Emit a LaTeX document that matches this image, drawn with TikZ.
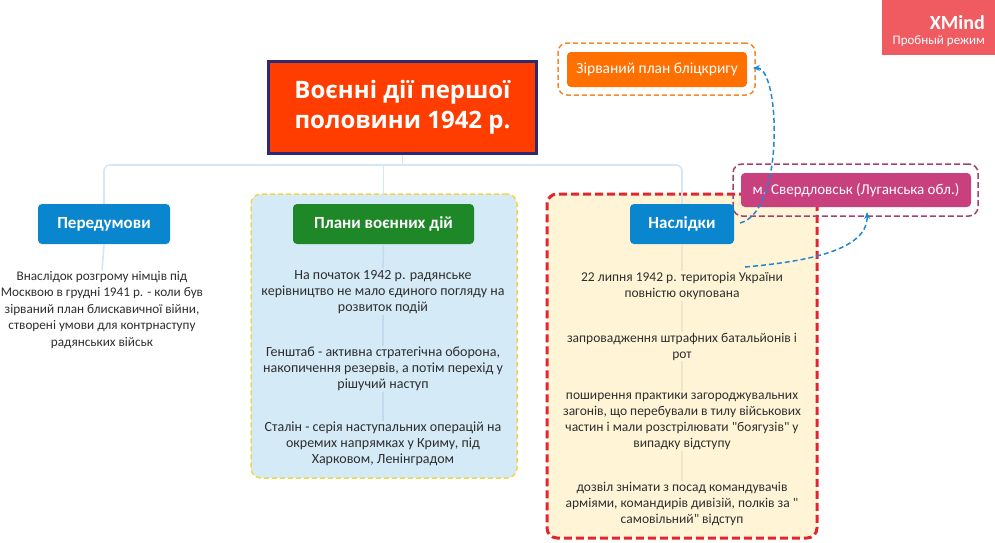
\documentclass[tikz,border=0pt]{standalone}
\usepackage{fontspec}
\setmainfont{Carlito}
\newfontfamily\titlefont{Open Sans}
\usetikzlibrary{arrows.meta}
\definecolor{txt}{HTML}{2E2E2E}
\definecolor{rootfill}{HTML}{FF3D00}
\definecolor{rootdraw}{HTML}{2B2A72}
\definecolor{topblue}{HTML}{0A86CF}
\definecolor{topgreen}{HTML}{1E8727}
\definecolor{bfblue}{HTML}{D4EAF7}
\definecolor{bdyellow}{HTML}{F2D64A}
\definecolor{bfyellow}{HTML}{FFF5D6}
\definecolor{bdred}{HTML}{E3262B}
\definecolor{zirfill}{HTML}{FF7000}
\definecolor{zirdraw}{HTML}{F08A2C}
\definecolor{svfill}{HTML}{C9407F}
\definecolor{svdraw}{HTML}{A0446F}
\definecolor{xmind}{HTML}{F05A61}
\definecolor{conn}{HTML}{D6E6F3}
\definecolor{connin}{HTML}{C2DAEE}
\definecolor{connyel}{HTML}{EDE5CC}
\definecolor{rel}{HTML}{1E88D0}
\tikzset{
  x=1pt, y=-1pt,
  topic/.style={rounded corners=4pt, inner sep=0pt, text=white,
    font=\fontsize{17}{20}\selectfont\bfseries, minimum height=40pt},
  body/.style={align=center, text=txt, inner sep=1pt,
    font=\fontsize{14}{16}\selectfont},
  nbody/.style={body, font=\fontsize{13.5}{16}\selectfont},
  line/.style={draw=conn, line width=1.6pt},
  linein/.style={draw=connin, line width=1.4pt},
  lineyel/.style={draw=connyel, line width=1.4pt},
  relarrow/.style={draw=rel, line width=1.5pt, dash pattern=on 5pt off 3pt,
    -{Stealth[length=7pt,width=6pt]}},
}
\begin{document}
\begin{tikzpicture}
\useasboundingbox (0,0) rectangle (995,542);
% boundaries
\node[draw=bdyellow, fill=bfblue, line width=1.5pt, dash pattern=on 5pt off 3pt,
  rounded corners=10pt, minimum width=266pt, minimum height=284pt, inner sep=0pt]
  (bplany) at (384,336) {};
\node[draw=bdred, fill=bfyellow, line width=3pt, dash pattern=on 8pt off 4pt,
  rounded corners=10pt, minimum width=270pt, minimum height=344pt, inner sep=0pt]
  (bnasl) at (682,366) {};
\node[draw=zirdraw, line width=1.5pt, dash pattern=on 5pt off 3pt,
  rounded corners=9pt, minimum width=197pt, minimum height=52pt, inner sep=0pt]
  (bzir) at (656.5,69) {};
\node[draw=svdraw, line width=1.5pt, dash pattern=on 6pt off 3pt,
  rounded corners=9pt, minimum width=245pt, minimum height=52pt, inner sep=0pt]
  (bsv) at (855.5,190) {};
% root
\node[fill=rootfill, draw=rootdraw, line width=3pt, minimum width=268pt,
  minimum height=92pt, align=center, text=white, inner sep=0pt,
  font=\titlefont\fontsize{24}{30}\selectfont\bfseries] (root) at (402.5,107.5)
  {Воєнні дії першої\\половини 1942 р.};
% topics
\node[topic, fill=topblue, minimum width=132pt] (pered) at (104,224) {Передумови};
\node[topic, fill=topgreen, minimum width=181pt] (plany) at (383.5,224) {Плани воєнних дій};
\node[topic, fill=topblue, minimum width=104pt] (nasl) at (682,224) {Наслідки};
% floating topics
\node[fill=zirfill, rounded corners=4pt, minimum width=180pt, minimum height=35pt,
  inner sep=0pt, text=white, font=\fontsize{15.5}{18}\selectfont] (zir) at (657,69.5)
  {Зірваний план бліцкригу};
\node[fill=svfill, rounded corners=4pt, minimum width=230pt, minimum height=34pt,
  inner sep=0pt, text=white, font=\fontsize{15}{18}\selectfont] (sv) at (856,190)
  {м. Свердловськ (Луганська обл.)};
% body texts
\node[body, font=\fontsize{13.2}{16.5}\selectfont] (p1) at (102,310) {Внаслідок розгрому німців під\\Москвою в грудні 1941 р. - коли був\\зірваний план блискавичної війни,\\створені умови для контрнаступу\\радянських військ};
\node[body] (a1) at (383,292) {На початок 1942 р. радянське\\керівництво не мало єдиного погляду на\\розвиток подій};
\node[body] (a2) at (383,369) {Генштаб - активна стратегічна оборона,\\накопичення резервів, а потім перехід у\\рішучий наступ};
\node[body] (a3) at (383,444) {Сталін - серія наступальних операцій на\\окремих напрямках у Криму, під\\Харковом, Ленінградом};
\node[nbody] (n1) at (682,286) {22 липня 1942 р. територія України\\повністю окупована};
\node[nbody] (n2) at (682,346.5) {запровадження штрафних батальйонів і\\рот};
\node[nbody] (n3) at (682,421) {поширення практики загороджувальних\\загонів, що перебували в тилу військових\\частин і мали розстрілювати \textquotedbl боягузів\textquotedbl{} у\\випадку відступу};
\node[nbody] (n4) at (682,504) {дозвіл знімати з посад командувачів\\арміями, командирів дивізій, полків за \textquotedbl\\самовільний\textquotedbl{} відступ};
% connectors
\coordinate (hub) at (402.5,165);
\coordinate (hubp) at (383.5,165);
\draw[line] (root.south) -- (hub);
\draw[line, rounded corners=6pt] (pered.north) |- (hub) -| (nasl.north);
\draw[line] (hubp) -- (plany.north);
\draw[line] (pered.south) -- (p1.north);
\draw[linein] (plany.south) -- (a1.north);
\draw[linein] (a1.south) -- (a2.north);
\draw[linein] (a2.south) -- (a3.north);
\draw[lineyel] (nasl.south) -- (n1.north);
\draw[lineyel] (n1.south) -- (n2.north);
\draw[lineyel] (n2.south) -- (n3.north);
\draw[lineyel] (n3.south) -- (n4.north);
% relationships
\coordinate (r1s) at (740,223);
\coordinate (r1e) at (753,68);
\draw[relarrow] (r1s) .. controls (785,212) and (780,68) .. (r1e);
\coordinate (r2s) at (745,267);
\coordinate (r2e) at (867,212);
\draw[relarrow] (r2s) .. controls (800,262) and (868,252) .. (r2e);
% watermark
\node[fill=xmind, minimum width=113pt, minimum height=55pt, inner sep=0pt, anchor=north west]
  (xm) at (882,0) {};
\node[text=white, anchor=east, inner sep=0pt, font=\fontsize{20}{22}\selectfont\bfseries]
  (xmt) at (985,23) {XMind};
\node[text=white, anchor=east, inner sep=0pt, font=\fontsize{13}{15}\selectfont]
  (xms) at (985,41) {Пробный режим};
\end{tikzpicture}
\end{document}
